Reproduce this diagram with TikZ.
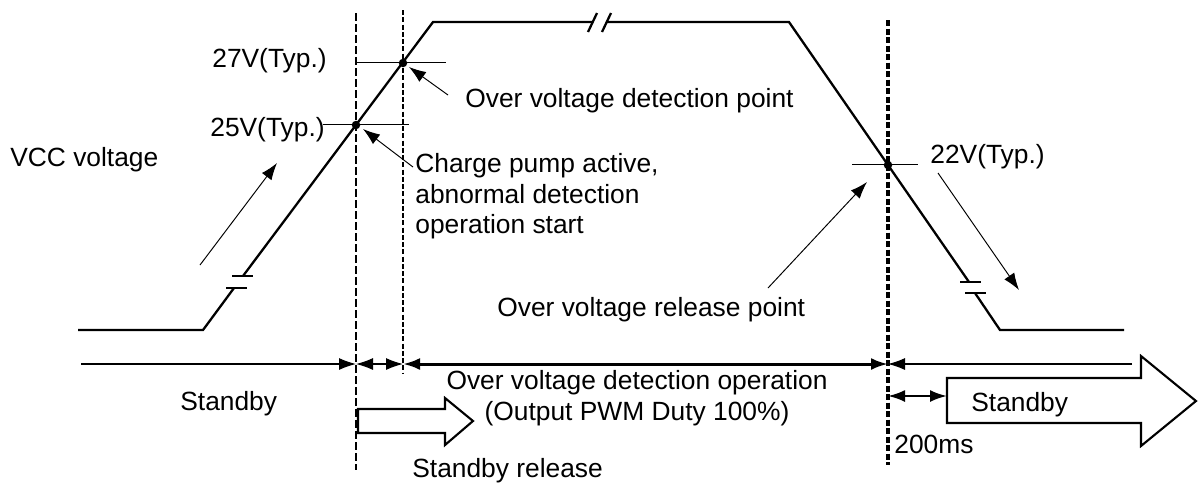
\documentclass[tikz,border=0pt]{standalone}
\usepackage{fontspec}
\setmainfont{Liberation Sans}
\usepackage{tikz}
\usetikzlibrary{arrows.meta}
\definecolor{SignalInk}{HTML}{000000}
\tikzset{
  >={Latex[length=3.4mm,width=2.4mm]},
  wave/.style={line width=1.3pt,draw=SignalInk,line join=miter},
  level/.style={line width=0.55pt,draw=SignalInk},
  callout/.style={->,line width=0.55pt,draw=SignalInk},
  guidethick/.style={line width=1.4pt,draw=SignalInk,dash pattern=on 1.6mm off 0.6mm},
  guidethin/.style={line width=0.6pt,draw=SignalInk,dash pattern=on 1mm off 0.45mm},
  guidedense/.style={line width=2pt,draw=SignalInk,dash pattern=on 1.2mm off 0.5mm},
  span/.style={<->,line width=0.6pt,draw=SignalInk},
  spanthick/.style={<->,line width=1.7pt,draw=SignalInk},
  blockarrow/.style={line width=1.2pt,draw=SignalInk,fill=white,line join=miter},
  lbl/.style={anchor=base west,inner sep=0pt,text=SignalInk,
    font=\fontsize{15}{17.4}\selectfont},
  dot/.style={circle,fill=SignalInk,inner sep=0pt,minimum size=1.7mm}
}

\begin{document}
\begin{tikzpicture}[x=0.2mm,y=-0.2mm]
  \useasboundingbox (0,0) rectangle (1199,482);

  % points on the supply curve
  \coordinate (p25) at (356,125);
  \coordinate (p27) at (403,63);
  \coordinate (p22) at (888,165);

  % VCC waveform with breaks
  \draw[wave] (78,330) -- (203,330) -- (234,288);
  \draw[wave] (226,288) -- (247,288);
  \draw[wave] (232,276) -- (253,276);
  \draw[wave] (243,276) -- (433,22) -- (593,22);
  \draw[wave] (588,32) -- (597,13);
  \draw[wave] (602,32) -- (611,13);
  \draw[wave] (606,22) -- (789,22) -- (969,282);
  \draw[wave] (960,282) -- (981,282);
  \draw[wave] (965,293) -- (986,293);
  \draw[wave] (975,293) -- (1000,330) -- (1124,330);

  % guide lines
  \draw[guidethick] (356,13) -- (356,470);
  \draw[guidethin] (403,10) -- (403,373);
  \draw[guidedense] (888,20) -- (888,465);

  % threshold levels
  \draw[level] (356,62) -- (446,62);
  \draw[level] (323,124) -- (409,124);
  \draw[level] (852,164) -- (918,164);
  \node[dot] at (p25) {};
  \node[dot] at (p27) {};
  \node[dot] at (p22) {};

  % labels
  \node[lbl] (vcc) at (10,166) {VCC voltage};
  \node[lbl] (typ27) at (212,67) {27V(Typ.)};
  \node[lbl] (typ25) at (210,136) {25V(Typ.)};
  \node[lbl] (typ22) at (930,163) {22V(Typ.)};
  \node[lbl] (ovdpoint) at (465,107) {Over voltage detection point};
  \node[lbl,anchor=north west,align=left] (chargepump) at (415,153)
    {Charge pump active,\\abnormal detection\\operation start};
  \node[lbl] (ovrelease) at (497,316) {Over voltage release point};

  % callouts
  \coordinate (risetail) at (200,265);
  \coordinate (risetip) at (277,163);
  \coordinate (ovdtail) at (448,95);
  \coordinate (ovdtip) at (409,67);
  \coordinate (cptail) at (413,167);
  \coordinate (cptip) at (363,129);
  \coordinate (reltail) at (768,288);
  \coordinate (reltip) at (867,182);
  \coordinate (falltail) at (938,173);
  \coordinate (falltip) at (1019,290);
  \draw[callout] (risetail) -- (risetip);
  \draw[callout] (ovdtail) -- (ovdtip);
  \draw[callout] (cptail) -- (cptip);
  \draw[callout] (reltail) -- (reltip);
  \draw[callout] (falltail) -- (falltip);

  % timing row
  \coordinate (tstart) at (81,364);
  \coordinate (t1) at (356,364);
  \coordinate (t2) at (403,364);
  \coordinate (t3) at (888,364);
  \coordinate (tend) at (1132,364);
  \draw[->,line width=0.6pt] (tstart) -- (t1);
  \draw[span] (t1) -- (t2);
  \draw[spanthick] (t2) -- (t3);
  \draw[->,line width=0.6pt] (tend) -- (t3);

  \node[lbl] (standbyleft) at (180,410) {Standby};
  \node[lbl,anchor=north,align=center] (ovdop) at (637,370)
    {Over voltage detection operation\\(Output PWM Duty 100\%)};

  % standby release block arrow
  \draw[blockarrow] (358,409) -- (445,409) -- (445,398) -- (473,421)
    -- (445,445) -- (445,433) -- (358,433) -- cycle;
  \node[lbl] (standbyrel) at (412,477) {Standby release};

  % standby block arrow after delay
  \draw[blockarrow] (947,378) -- (1141,378) -- (1141,356) -- (1196,401)
    -- (1141,446) -- (1141,423) -- (947,423) -- cycle;
  \node[lbl] (standbyright) at (971,411) {Standby};
  \coordinate (d0) at (888,396);
  \coordinate (d1) at (947,396);
  \draw[span,line width=1.3pt] (d0) -- (d1);
  \node[lbl] (delay) at (894,453) {200ms};
\end{tikzpicture}
\end{document}
